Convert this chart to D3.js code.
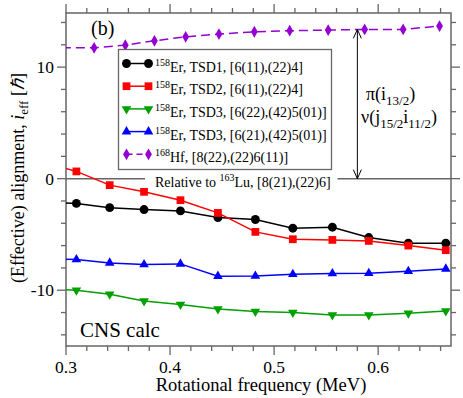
<html>
<head>
    <script src="https://d3js.org/d3.v7.min.js"></script>
</head>
<body style="margin:0">

    <svg id="chart" width="463" height="398"></svg>

    <script>

    // rotational frequency (MeV) for the Er bands, and for 168Hf
    var freqEr = [0.277, 0.310, 0.342, 0.375, 0.410, 0.446, 0.482, 0.518, 0.556, 0.591, 0.629, 0.665];
    var freqHf = [0.296, 0.327, 0.357, 0.385, 0.415, 0.447, 0.481, 0.515, 0.552, 0.587, 0.624, 0.659];

    // effective alignment relative to 163Lu
    var tsd1  = [-2.1, -2.22, -2.6, -2.77, -2.89, -3.48, -3.66, -4.44, -4.35, -5.28, -5.78, -5.78];
    var tsd2  = [1.5, 0.65, -0.58, -1.18, -1.93, -3.07, -4.77, -5.43, -5.49, -5.58, -6.0, -6.41];
    var tsd3a = [-9.85, -10.0, -10.36, -10.96, -11.28, -11.68, -11.91, -12.0, -12.22, -12.22, -12.06, -11.86];
    var tsd3b = [-7.15, -7.25, -7.55, -7.7, -7.64, -8.74, -8.72, -8.57, -8.5, -8.48, -8.3, -8.09];
    var hf168 = [11.73, 11.73, 11.97, 12.36, 12.72, 12.96, 13.17, 13.26, 13.32, 13.38, 13.38, 13.68];

    var xMajor = [0.3, 0.4, 0.5, 0.6];
    var yMajor = [-10, 0, 10];

    var series = [
        { iso: "158", text: "Er, TSD1, [6(11),(22)4]",     x: freqEr, y: tsd1,  color: "#000000", sym: d3.symbolCircle,   dash: null },
        { iso: "158", text: "Er, TSD2, [6(11),(22)4]",     x: freqEr, y: tsd2,  color: "#ff0000", sym: d3.symbolSquare,   dash: null },
        { iso: "158", text: "Er, TSD3, [6(22),(42)5(01)]", x: freqEr, y: tsd3a, color: "#00a000", sym: "down",             dash: null },
        { iso: "158", text: "Er, TSD3, [6(21),(42)5(01)]", x: freqEr, y: tsd3b, color: "#0000ff", sym: d3.symbolTriangle, dash: null },
        { iso: "168", text: "Hf, [8(22),(22)6(11)]",       x: freqHf, y: hf168, color: "#9400d3", sym: d3.symbolDiamond,  dash: "9,5" }
    ];

    var L = 66, R = 451, T = 13, B = 346;
    var frameCol = "#666";
    var FONT = "Liberation Serif";

    var xSc = d3.scaleLinear().domain([0.3, 0.67]).range([L, R]);
    var ySc = d3.scaleLinear().domain([-15, 14.85]).range([B, T]);

    var svg = d3.select("#chart");

    function txt(parent, x, y, size) {
        return parent.append("text").attr("x", x).attr("y", y)
            .attr("font-size", size).attr("font-family", FONT);
    }

    svg.append("defs").append("clipPath").attr("id", "clip")
        .append("rect").attr("x", L).attr("y", T).attr("width", R - L).attr("height", B - T);

    // ticks pointing outward, minor every 0.02 / 2
    var xMinor = d3.range(0.3, 0.671, 0.02);
    var yMinor = d3.range(-14, 15, 2);
    var tk = svg.append("g").attr("stroke", frameCol).attr("stroke-width", 1.3);
    function isMajX(v) { return xMajor.some(m => Math.abs(m - v) < 1e-6); }
    xMinor.forEach(function (v) {
        var len = isMajX(v) ? 9 : 5;
        tk.append("line").attr("x1", xSc(v)).attr("x2", xSc(v)).attr("y1", B).attr("y2", B + len);
        tk.append("line").attr("x1", xSc(v)).attr("x2", xSc(v)).attr("y1", T).attr("y2", T - len);
    });
    yMinor.forEach(function (v) {
        var len = yMajor.indexOf(v) >= 0 ? 9 : 5;
        tk.append("line").attr("y1", ySc(v)).attr("y2", ySc(v)).attr("x1", L).attr("x2", L - len);
        tk.append("line").attr("y1", ySc(v)).attr("y2", ySc(v)).attr("x1", R).attr("x2", R + len);
    });
    xMajor.forEach(function (v) {
        txt(svg, xSc(v), 373, 17.5).attr("text-anchor", "middle").text(String(v));
    });
    yMajor.forEach(function (v) {
        txt(svg, 54, ySc(v) + 6, 17.5).attr("text-anchor", "end").text(String(v));
    });

    // zero reference line with its label
    var rel = txt(svg, 155, 187, 14);
    rel.append("tspan").text("Relative to ");
    rel.append("tspan").attr("font-size", 10).attr("dy", -6).text("163");
    rel.append("tspan").attr("dy", 6).text("Lu, [8(21),(22)6]");
    var rb = rel.node().getBBox();
    svg.append("line").attr("x1", L).attr("x2", rb.x - 10).attr("y1", ySc(0)).attr("y2", ySc(0))
        .attr("stroke", frameCol).attr("stroke-width", 1.5);
    svg.append("line").attr("x1", rb.x + rb.width + 7).attr("x2", R).attr("y1", ySc(0)).attr("y2", ySc(0))
        .attr("stroke", frameCol).attr("stroke-width", 1.5);

    // frame
    svg.append("rect").attr("x", L).attr("y", T).attr("width", R - L).attr("height", B - T)
        .attr("fill", "none").attr("stroke", frameCol).attr("stroke-width", 1.5);

    function symPath(sym) {
        if (sym === "down") return d3.symbol().type(d3.symbolTriangle).size(40)();
        var size = sym === d3.symbolCircle ? 62 : sym === d3.symbolSquare ? 60 : sym === d3.symbolDiamond ? 40 : 40;
        return d3.symbol().type(sym).size(size)();
    }
    function symTf(sym, x, y) {
        return "translate(" + x + "," + y + ")" + (sym === "down" ? " rotate(180)" : "");
    }

    // the curves
    var lnMkr = d3.line().curve(d3.curveLinear);
    var plot = svg.append("g").attr("clip-path", "url(#clip)");
    series.forEach(function (s) {
        var pts = s.x.map((v, i) => [xSc(v), ySc(s.y[i])]);
        plot.append("path").attr("d", lnMkr(pts))
            .attr("fill", "none").attr("stroke", s.color).attr("stroke-width", 1.5)
            .attr("stroke-dasharray", s.dash);
        plot.append("g").selectAll("path").data(pts).enter().append("path")
            .attr("d", symPath(s.sym)).attr("transform", d => symTf(s.sym, d[0], d[1]))
            .attr("fill", s.color);
    });

    // legend
    var lg = svg.append("g");
    lg.append("rect").attr("x", 118.5).attr("y", 49.5).attr("width", 213).attr("height", 120)
        .attr("fill", "#fff").attr("stroke", frameCol).attr("stroke-width", 1.3);
    series.forEach(function (s, i) {
        var y = 63.5 + i * 22.7;
        lg.append("line").attr("x1", 126.5).attr("x2", 148.5).attr("y1", y).attr("y2", y)
            .attr("stroke", s.color).attr("stroke-width", 1.5).attr("stroke-dasharray", s.dash ? "6,4" : null);
        [126.5, 148.5].forEach(function (x) {
            lg.append("path").attr("d", symPath(s.sym)).attr("transform", symTf(s.sym, x, y)).attr("fill", s.color);
        });
        var t = txt(lg, 155, y + 8, 14);
        t.append("tspan").attr("font-size", 10).attr("dy", -6).text(s.iso);
        t.append("tspan").attr("dy", 6).text(s.text);
    });

    // arrow between 163Lu and 168Hf configurations
    var ax = xSc(0.58), ay1 = ySc(13.38), ay2 = ySc(0);
    var ar = svg.append("g").attr("stroke", "#000").attr("stroke-width", 1).attr("fill", "none");
    ar.append("line").attr("x1", ax).attr("x2", ax).attr("y1", ay1).attr("y2", ay2);
    ar.append("path").attr("d", "M" + (ax - 4) + "," + (ay1 + 9) + "L" + ax + "," + ay1 + "L" + (ax + 4) + "," + (ay1 + 9));
    ar.append("path").attr("d", "M" + (ax - 4) + "," + (ay2 - 9) + "L" + ax + "," + ay2 + "L" + (ax + 4) + "," + (ay2 - 9));

    var a1 = txt(svg, 366, 100, 18);
    a1.append("tspan").text("\u03c0(i");
    a1.append("tspan").attr("font-size", 13).attr("dy", 5).text("13/2");
    a1.append("tspan").attr("dy", -5).text(")");
    var a2 = txt(svg, 361, 123, 18);
    a2.append("tspan").text("\u03bd(j");
    a2.append("tspan").attr("font-size", 13).attr("dy", 5).text("15/2");
    a2.append("tspan").attr("dy", -5).text("i");
    a2.append("tspan").attr("font-size", 13).attr("dy", 5).text("11/2");
    a2.append("tspan").attr("dy", -5).text(")");

    // panel labels
    txt(svg, 91, 35, 20).text("(b)");
    txt(svg, 80, 337, 21).text("CNS calc");

    // axis titles
    txt(svg, 261, 391, 18.5).attr("text-anchor", "middle").text("Rotational frequency (MeV)");
    var yt = txt(svg, 0, 0, 18).attr("transform", "translate(24,178) rotate(-90)")
        .attr("text-anchor", "middle");
    yt.append("tspan").text("(Effective) alignment, ");
    yt.append("tspan").attr("font-style", "italic").text("i");
    yt.append("tspan").attr("font-size", 13).attr("dy", 4).text("eff");
    yt.append("tspan").attr("dy", -4).text(" [");
    yt.append("tspan").attr("font-style", "italic").text("\u210f");
    yt.append("tspan").text("]");

    </script>

</body></html>
